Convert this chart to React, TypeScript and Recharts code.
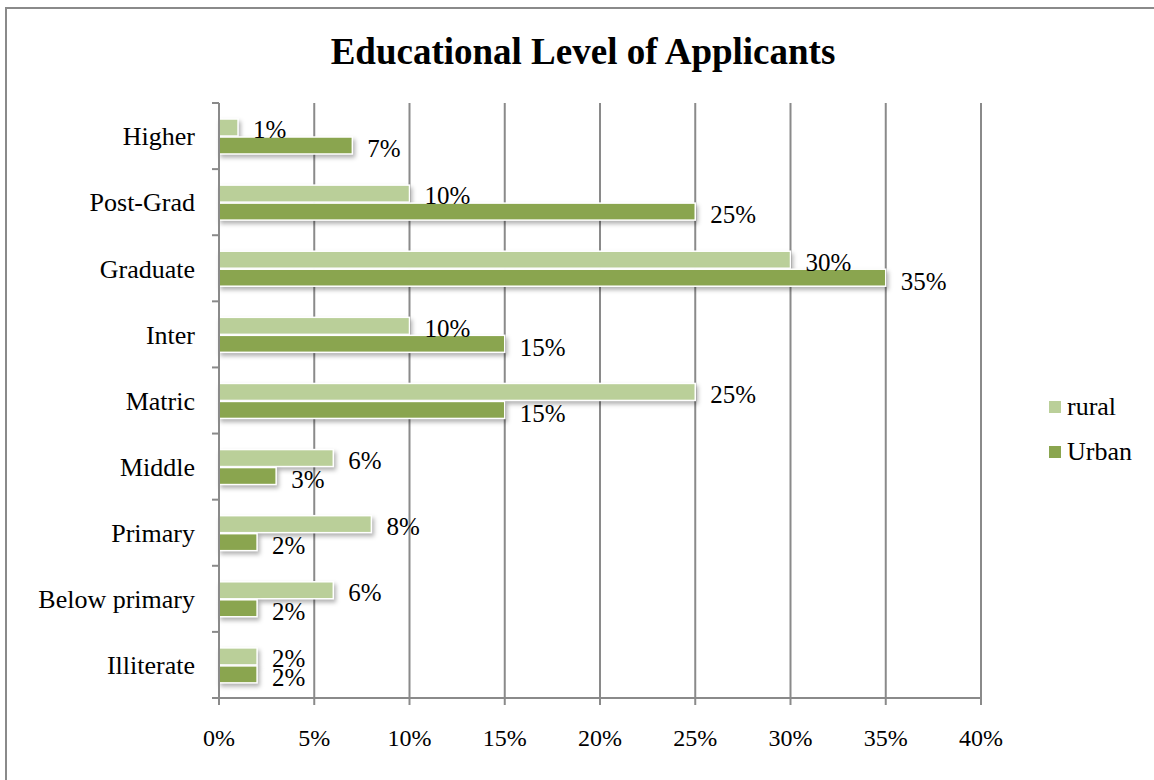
import React from 'react';
import { BarChart, Bar, XAxis, YAxis, CartesianGrid, Legend, LabelList } from 'recharts';

const categories = ['Higher', 'Post-Grad', 'Graduate', 'Inter', 'Matric', 'Middle', 'Primary', 'Below primary', 'Illiterate'];
const rural = [1, 10, 30, 10, 25, 6, 8, 6, 2];
const urban = [7, 25, 35, 15, 15, 3, 2, 2, 2];
const xTicks = [0, 5, 10, 15, 20, 25, 30, 35, 40];
const seriesNames = ['rural', 'Urban'];

const data = categories.map((name, i) => ({ name, rural: rural[i], Urban: urban[i] }));

const W = 1154;
const H = 780;
const MARGIN = { top: 103, right: 173, bottom: 22, left: 0 };
const X_AXIS_H = 60;
const Y_AXIS_W = 219;
const PLOT_H = H - MARGIN.top - MARGIN.bottom - X_AXIS_H;
const BAND = PLOT_H / categories.length;

const GRAY = '#8a8a8a';
const RURAL = '#bacf99';
const URBAN = '#8aa54f';
const FONT = '"Liberation Serif", "Times New Roman", serif';

const CatTick = (props: any) => {
  const { x, y, payload, index } = props;
  const axisX = x + 24;
  const half = BAND / 2;
  return (
    <g>
      <text x={x} y={y} dy="0.355em" textAnchor="end" fontSize={26} fontFamily={FONT} fill="#000">
        {payload.value}
      </text>
      <line x1={axisX - 7} x2={axisX} y1={y - half} y2={y - half} stroke={GRAY} strokeWidth={2} />
      {index === categories.length - 1 && (
        <line x1={axisX - 7} x2={axisX} y1={y + half} y2={y + half} stroke={GRAY} strokeWidth={2} />
      )}
    </g>
  );
};

const ShadowBar = (props: any) => {
  const { x, y, width, height, fill } = props;
  if (!width || width <= 0) return <g />;
  return (
    <rect
      x={x}
      y={y}
      width={width}
      height={height}
      fill={fill}
      stroke="#ffffff"
      strokeWidth={1.5}
      style={{ filter: 'drop-shadow(2px 3px 2px rgba(0,0,0,0.3))' }}
    />
  );
};

const LegendContent = () => (
  <div style={{ fontFamily: FONT, fontSize: 26, color: '#000' }}>
    {seriesNames.map((n, i) => (
      <div key={n} style={{ display: 'flex', alignItems: 'center', height: 45.5 }}>
        <span
          style={{
            display: 'inline-block',
            width: 12,
            height: 12,
            background: i === 0 ? RURAL : URBAN,
            marginRight: 6,
          }}
        />
        <span style={{ lineHeight: 1 }}>{n}</span>
      </div>
    ))}
  </div>
);

export default function App() {
  return (
    <div style={{ position: 'absolute', left: 0, top: 0, width: W, height: H, background: '#fff', overflow: 'hidden' }}>
      <div
        style={{
          position: 'absolute',
          left: 5,
          top: 7,
          width: W - 5,
          height: H - 7,
          borderLeft: `2px solid ${GRAY}`,
          borderTop: `2px solid ${GRAY}`,
          boxSizing: 'border-box',
        }}
      />
      <div
        style={{
          position: 'absolute',
          left: 0,
          top: 33,
          width: 1166,
          textAlign: 'center',
          fontFamily: FONT,
          fontWeight: 'bold',
          fontSize: 37,
          lineHeight: '37px',
          color: '#000',
        }}
      >
        Educational Level of Applicants
      </div>
      <div style={{ position: 'absolute', left: 0, top: 0 }}>
        <BarChart width={W} height={H} data={data} layout="vertical" margin={MARGIN} barSize={17} barGap={1}>
          <CartesianGrid horizontal={false} vertical={true} stroke={GRAY} strokeWidth={2} />
          <XAxis
            type="number"
            domain={[0, 40]}
            ticks={xTicks}
            tickFormatter={(v: number) => `${v}%`}
            height={X_AXIS_H}
            tickSize={7}
            tickMargin={24}
            axisLine={{ stroke: GRAY, strokeWidth: 2 }}
            tickLine={{ stroke: GRAY, strokeWidth: 2 }}
            tick={{ fontSize: 24, fontFamily: FONT, fill: '#000' }}
            interval={0}
          />
          <YAxis
            type="category"
            dataKey="name"
            width={Y_AXIS_W}
            tickSize={7}
            tickMargin={17}
            tickLine={false}
            axisLine={{ stroke: GRAY, strokeWidth: 2 }}
            tick={<CatTick />}
            interval={0}
          />
          <Legend
            layout="vertical"
            align="center"
            verticalAlign="middle"
            wrapperStyle={{ left: 1049, top: 384, width: 100 }}
            content={<LegendContent />}
          />
          <Bar dataKey="rural" fill={RURAL} isAnimationActive={false} shape={<ShadowBar />}>
            <LabelList
              dataKey="rural"
              position="right"
              offset={15}
              dy={2}
              formatter={(v: any) => `${v}%`}
              style={{ fontSize: 25, fontFamily: FONT, fill: '#000' }}
            />
          </Bar>
          <Bar dataKey="Urban" fill={URBAN} isAnimationActive={false} shape={<ShadowBar />}>
            <LabelList
              dataKey="Urban"
              position="right"
              offset={15}
              dy={3}
              formatter={(v: any) => `${v}%`}
              style={{ fontSize: 25, fontFamily: FONT, fill: '#000' }}
            />
          </Bar>
        </BarChart>
      </div>
    </div>
  );
}
